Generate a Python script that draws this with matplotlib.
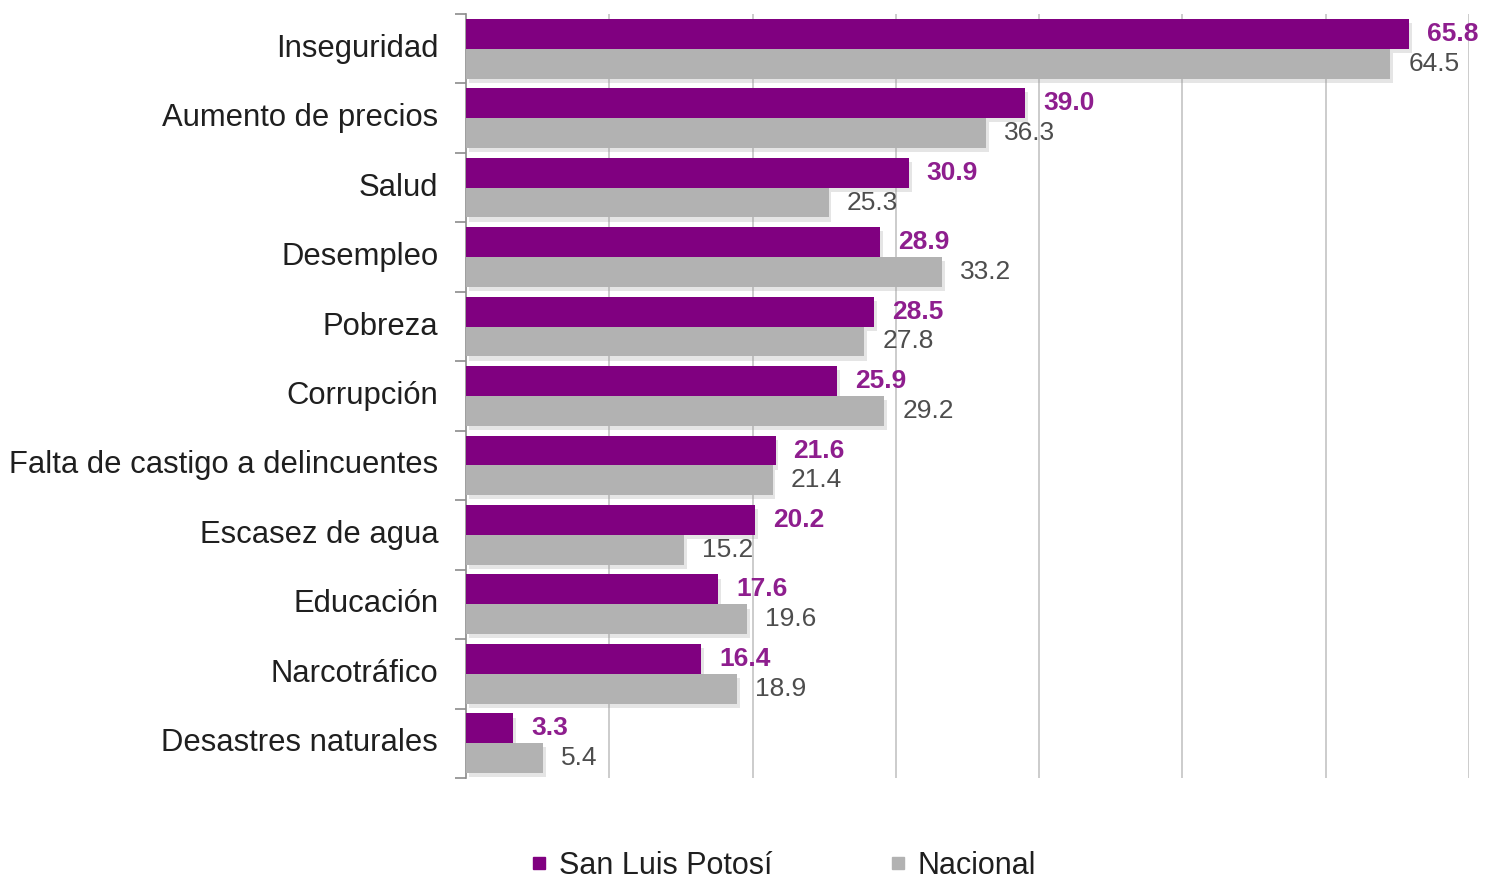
import numpy as np
import matplotlib
matplotlib.use("Agg")
import matplotlib.pyplot as plt
import matplotlib.patheffects as pe
from matplotlib.lines import Line2D

plt.rcParams['font.family'] = ['Liberation Sans', 'DejaVu Sans']

categorias = ["Inseguridad", "Aumento de precios", "Salud", "Desempleo", "Pobreza",
              "Corrupción", "Falta de castigo a delincuentes", "Escasez de agua",
              "Educación", "Narcotráfico", "Desastres naturales"]
slp = [65.8, 39.0, 30.9, 28.9, 28.5, 25.9, 21.6, 20.2, 17.6, 16.4, 3.3]
nacional = [64.5, 36.3, 25.3, 33.2, 27.8, 29.2, 21.4, 15.2, 19.6, 18.9, 5.4]
series = ["San Luis Potosí", "Nacional"]

morado = "#800080"
gris = "#b2b2b2"

fig = plt.figure(figsize=(14.86, 8.85), dpi=100)
ax = fig.add_axes([0.3136, 0.1209, 0.675, 0.8633])

y = np.arange(len(categorias))
h = 0.43
sombra = [pe.SimplePatchShadow(offset=(2, -3), shadow_rgbFace="#999999", alpha=0.25), pe.Normal()]

b1 = ax.barh(y - h / 2, slp, height=h, color=morado, zorder=3)
b2 = ax.barh(y + h / 2, nacional, height=h, color=gris, zorder=3)
for b in list(b1) + list(b2):
    b.set_path_effects(sombra)

for yi, v in zip(y, slp):
    ax.annotate(f"{v:.1f}", (v, yi - h / 2), xytext=(13, 0), textcoords="offset points",
                va="center", ha="left", fontsize=19, fontweight="bold", color="#8e1e8e", zorder=4)
for yi, v in zip(y, nacional):
    ax.annotate(f"{v:.1f}", (v, yi + h / 2), xytext=(13, 0), textcoords="offset points",
                va="center", ha="left", fontsize=19, color="#4d4d4d", zorder=4)

ax.set_xlim(0, 70)
ax.set_ylim(len(categorias) - 0.5, -0.5)
ax.set_xticks(np.arange(10, 71, 10))
ax.tick_params(axis="x", length=0, labelbottom=False)
ax.grid(axis="x", color="#c4c4c4", linewidth=1.2, zorder=0)

ax.set_yticks(y - 0.05)
ax.set_yticklabels(categorias, fontsize=22.3, color="#1f1f1f")
ax.tick_params(axis="y", which="major", length=0, pad=20)
ax.set_yticks(np.arange(-0.5, len(categorias), 1), minor=True)
ax.tick_params(axis="y", which="minor", length=8, width=1.2, color="#8c8c8c")

for s in ["top", "right", "bottom"]:
    ax.spines[s].set_visible(False)
ax.spines["left"].set_color("#8c8c8c")
ax.spines["left"].set_linewidth(1.2)

handles = [Line2D([], [], marker="s", linestyle="", markersize=9, color=morado),
           Line2D([], [], marker="s", linestyle="", markersize=9, color=gris)]
fig.legend(handles, series, loc="center", bbox_to_anchor=(0.527, 0.022), ncol=2,
           frameon=False, fontsize=22, handlelength=0.6, handletextpad=0.35,
           columnspacing=3.8, labelcolor="#1f1f1f", borderpad=0.1)

fig.savefig("out.png", dpi=100)
